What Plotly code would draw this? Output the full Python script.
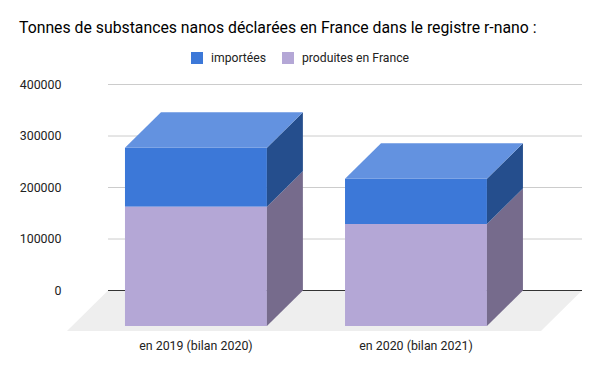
import plotly.graph_objects as go

categories = ["en 2019 (bilan 2020)", "en 2020 (bilan 2021)"]
importees = [114550, 87940]
produites = [231650, 198060]
y_ticks = [0, 100000, 200000, 300000, 400000]
y_tick_labels = ["0", "100000", "200000", "300000", "400000"]
legend_names = ["importées", "produites en France"]

DEPTH_Y = 68930
DEPTH_X = 0.1636
FLOOR_Y = 78640
FLOOR_X = 0.1864
BAR_W = 0.645
BLUE, PURPLE = "#3c78d8", "#b4a7d6"
BLUE_TOP, BLUE_SIDE, PURPLE_SIDE = "#6392e0", "#254e8d", "#766b8c"
xs = list(range(len(categories)))
X_MIN, X_MAX = -0.586, 1.7545
Y_MIN, Y_MAX = -FLOOR_Y, 418447
WALL_L = X_MIN + FLOOR_X

# the page body adds 8px around the figure
PAGE = 8
L, R, T, B = 59, 18, 67, 40
W, H = 600 - PAGE, 371 - PAGE
PW, PH = W - L - R, H - T - B


def paper_x(px):
    return (px - PAGE - L) / PW


def paper_y(py):
    return 1 - (py - PAGE - T) / PH


fig = go.Figure()
fig.add_trace(go.Bar(name=legend_names[0], x=xs, y=importees,
                     base=[p - DEPTH_Y for p in produites], showlegend=False,
                     width=BAR_W, marker=dict(color=BLUE, line_width=0)))
fig.add_trace(go.Bar(name=legend_names[1], x=xs, y=produites,
                     base=[-DEPTH_Y] * len(xs), showlegend=False,
                     width=BAR_W, marker=dict(color=PURPLE, line_width=0)))


def poly(px, py, color):
    fig.add_trace(go.Scatter(x=px + px[:1], y=py + py[:1], mode="lines", fill="toself",
                             fillcolor=color, line=dict(width=0, color=color),
                             showlegend=False, hoverinfo="skip"))


for x, p, i in zip(xs, produites, importees):
    r = x + BAR_W / 2
    l = x - BAR_W / 2
    t = p + i
    poly([r, r, r + DEPTH_X, r + DEPTH_X], [-DEPTH_Y, p - DEPTH_Y, p, 0], PURPLE_SIDE)
    poly([r, r, r + DEPTH_X, r + DEPTH_X], [p - DEPTH_Y, t - DEPTH_Y, t, p], BLUE_SIDE)
    poly([l, r, r + DEPTH_X, l + DEPTH_X], [t - DEPTH_Y, t - DEPTH_Y, t, t], BLUE_TOP)

shapes = [dict(type="path", layer="below", xref="x", yref="y", line_width=0, fillcolor="#eeeeee",
               path=f"M{X_MIN},{Y_MIN}L{X_MAX - FLOOR_X},{Y_MIN}L{X_MAX},0L{WALL_L},0Z")]
for v in y_ticks:
    shapes.append(dict(type="line", layer="below", xref="x", yref="y",
                       x0=WALL_L, x1=X_MAX, y0=v, y1=v,
                       line=dict(color="#333333" if v == 0 else "#cccccc", width=1)))

annotations = []
for name, color, sx in zip(legend_names, [BLUE, PURPLE], [191, 282]):
    shapes.append(dict(type="rect", xref="paper", yref="paper", layer="above",
                       x0=paper_x(sx), x1=paper_x(sx + 12), y0=paper_y(64), y1=paper_y(52),
                       fillcolor=color, line_width=0))
    annotations.append(dict(xref="paper", yref="paper", x=paper_x(sx + 20), y=paper_y(58),
                            xanchor="left", yanchor="middle", showarrow=False,
                            text=name, borderpad=0, borderwidth=0,
                            font=dict(size=12.2, color="#222222", family="Roboto")))

fig.update_layout(
    width=W, height=H, autosize=False,
    margin=dict(l=L, r=R, t=T, b=B),
    paper_bgcolor="white", plot_bgcolor="rgba(0,0,0,0)",
    barmode="overlay", shapes=shapes, annotations=annotations, showlegend=False,
    font=dict(family="Roboto", size=12.4, color="#222222"),
    title=dict(text="Tonnes de substances nanos déclarées en France dans le registre r-nano :",
               x=(19 - PAGE) / W, xanchor="left", y=1 - (27 - PAGE) / H, yanchor="middle",
               font=dict(size=15.8, color="#000000", family="Roboto")),
    xaxis=dict(range=[X_MIN, X_MAX], tickmode="array", tickvals=xs, ticktext=categories,
               showgrid=False, zeroline=False, showline=False, ticks="outside",
               ticklen=3, tickcolor="rgba(0,0,0,0)", fixedrange=True),
    yaxis=dict(range=[Y_MIN, Y_MAX], tickmode="array", tickvals=y_ticks, ticktext=y_tick_labels,
               showgrid=False, zeroline=False, showline=False, ticks="outside",
               ticklen=2, tickcolor="rgba(0,0,0,0)", fixedrange=True),
)
fig.write_html("out.html", config=dict(displayModeBar=False))
